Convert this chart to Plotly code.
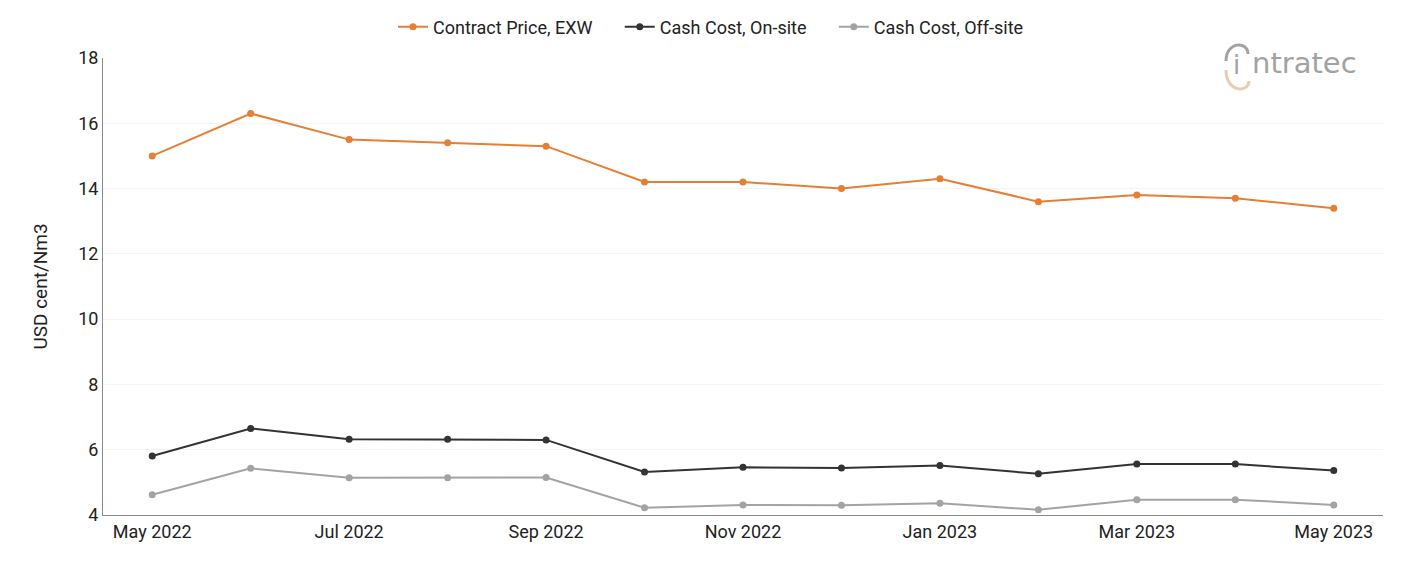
import plotly.graph_objects as go

months = ["May 2022", "Jun 2022", "Jul 2022", "Aug 2022", "Sep 2022", "Oct 2022",
          "Nov 2022", "Dec 2022", "Jan 2023", "Feb 2023", "Mar 2023", "Apr 2023", "May 2023"]
contract_price = [15.0, 16.3, 15.5, 15.4, 15.3, 14.2, 14.2, 14.0, 14.3, 13.6, 13.8, 13.7, 13.4]
cash_on_site = [5.81, 6.65, 6.32, 6.32, 6.30, 5.32, 5.46, 5.44, 5.52, 5.26, 5.56, 5.56, 5.36]
cash_off_site = [4.62, 5.43, 5.14, 5.14, 5.15, 4.22, 4.31, 4.30, 4.36, 4.16, 4.47, 4.47, 4.31]
tick_labels = ["May 2022", "Jul 2022", "Sep 2022", "Nov 2022", "Jan 2023", "Mar 2023", "May 2023"]

series = [
    ("Contract Price, EXW", contract_price, "#E67E33"),
    ("Cash Cost, On-site", cash_on_site, "#333333"),
    ("Cash Cost, Off-site", cash_off_site, "#A3A3A3"),
]

fig = go.Figure()
for name, vals, color in series:
    fig.add_trace(go.Scatter(
        x=months, y=vals, name=name + "     ", mode="lines+markers",
        line=dict(color=color, width=2),
        marker=dict(color=color, size=7),
    ))

W, H = 1401, 561
L, R, T, B = 103, 18, 58, 46
PW, PH = W - L - R, H - T - B


def px(x):
    return (x - L) / PW


def py(y):
    return (H - B - y) / PH


fig.update_layout(
    width=W, height=H,
    paper_bgcolor="white", plot_bgcolor="white",
    margin=dict(l=L, r=R, t=T, b=B, autoexpand=False),
    font=dict(family="Roboto", size=18, color="#222222"),
    legend=dict(orientation="h", x=px(722), xanchor="center", y=py(27), yanchor="middle",
                font=dict(size=18, color="#222222"), itemwidth=30,
                traceorder="normal"),
    showlegend=True,
)
fig.update_xaxes(
    type="category", categoryorder="array", categoryarray=months,
    tickmode="array", tickvals=tick_labels, ticktext=tick_labels,
    range=[-0.5, 12.5], showgrid=False, showline=True, linecolor="#8a8a8a",
    linewidth=1, ticks="", tickfont=dict(size=18, color="#222222"),
)
fig.update_yaxes(
    range=[4, 18], dtick=2, showgrid=True, gridcolor="#f4f4f4", gridwidth=1,
    showline=True, linecolor="#8a8a8a", linewidth=1, ticks="",
    zeroline=False, tickfont=dict(size=18, color="#222222"),
    title=dict(text="USD cent/Nm3", font=dict(size=19, color="#222222"), standoff=25),
)

# logo
logo_gray = "#A2A2A2"
fig.add_annotation(xref="paper", yref="paper", x=px(1250), y=py(75), xanchor="left", yanchor="bottom",
                   text="ntratec", showarrow=False, yshift=-7,
                   font=dict(family="DejaVu Sans", size=29, color=logo_gray))
fig.add_annotation(xref="paper", yref="paper", x=px(1236), y=py(75), xanchor="center", yanchor="bottom",
                   text="i", showarrow=False, yshift=-7,
                   font=dict(family="DejaVu Sans", size=26, color=logo_gray))
fig.add_shape(type="path", xref="paper", yref="paper",
              path=f"M {px(1226)} {py(61)} C {px(1226)} {py(41)} {px(1248)} {py(41)} {px(1248)} {py(54)}",
              line=dict(color=logo_gray, width=3))
fig.add_shape(type="path", xref="paper", yref="paper",
              path=f"M {px(1226)} {py(70)} C {px(1226)} {py(93)} {px(1249)} {py(93)} {px(1249)} {py(81)}",
              line=dict(color="#EACCAE", width=3))

fig.write_html("out.html")
